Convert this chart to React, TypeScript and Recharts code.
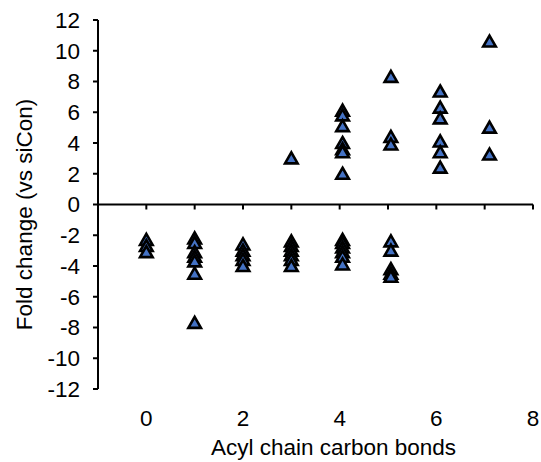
import { ScatterChart, Scatter, XAxis, YAxis, ReferenceLine, Label } from 'recharts';

// acyl chain carbon bonds (category) and the x where Excel drew each column
const bondCounts = [0, 1, 2, 3, 4, 5, 6, 7];
const plotX = [0, 1, 2, 3, 4.06, 5.06, 6.08, 7.1];

const fold0 = [-2.3, -2.7, -3.1];
const fold1 = [-2.2, -2.5, -3.1, -3.4, -3.7, -4.5, -7.7];
const fold2 = [-2.6, -3.0, -3.3, -3.6, -4.0];
const fold3 = [3.0, -2.4, -2.7, -3.0, -3.3, -3.6, -4.0];
const fold4 = [6.1, 5.8, 5.1, 4.0, 3.6, 3.4, 2.0, -2.3, -2.5, -2.8, -3.1, -3.4, -3.9];
const fold5 = [8.3, 4.4, 3.9, -2.4, -3.0, -4.2, -4.5, -4.7];
const fold6 = [7.35, 6.3, 5.6, 4.1, 3.4, 2.4];
const fold7 = [10.6, 5.0, 3.25];

const xTicks = [0, 1, 2, 3, 4, 5, 6, 7, 8];
const yTicks = [-12, -10, -8, -6, -4, -2, 0, 2, 4, 6, 8, 10, 12];

const groups = [fold0, fold1, fold2, fold3, fold4, fold5, fold6, fold7];
const points = groups.flatMap((vals, i) =>
  vals.map((v) => ({ bonds: bondCounts[i], x: plotX[i], y: v }))
);

const W = 541;
const H = 462;
const MARGIN = { top: 20, right: 8, bottom: 0, left: 0 };
const Y_AXIS_W = 98;
const X_AXIS_H = 73;
// pixel row of y = 0 (middle of the symmetric -12..12 range)
const ZERO_Y = MARGIN.top + (H - MARGIN.top - MARGIN.bottom - X_AXIS_H) / 2;
const FONT = '"Liberation Sans", Arial, sans-serif';
const FS = 22.5;

const Triangle = (props: any) => {
  const { cx, cy } = props;
  if (cx == null || cy == null) return null;
  return (
    <path
      d={`M${cx},${cy - 6} L${cx + 6.3},${cy + 5} L${cx - 6.3},${cy + 5} Z`}
      fill="#4472C4"
      stroke="#000"
      strokeWidth={2.6}
      strokeLinejoin="miter"
    />
  );
};

const XTick = (props: any) => {
  const { x, y, payload } = props;
  const v = payload.value;
  return (
    <g>
      <line x1={x} y1={ZERO_Y} x2={x} y2={ZERO_Y + 5} stroke="#000" strokeWidth={2} />
      {v % 2 === 0 && (
        <text x={x} y={y} dy="0.71em" textAnchor="middle" fill="#000" fontSize={FS} fontFamily={FONT}>
          {v}
        </text>
      )}
    </g>
  );
};

const YTitle = (props: any) => {
  const { viewBox } = props;
  const cx = 24;
  const cy = viewBox.y + viewBox.height / 2 + 10;
  return (
    <text
      x={cx}
      y={cy}
      textAnchor="middle"
      dominantBaseline="central"
      transform={`rotate(-90 ${cx} ${cy})`}
      fill="#000"
      fontSize={FS}
      fontFamily={FONT}
    >
      Fold change (vs siCon)
    </text>
  );
};

export default function App() {
  return (
    <div style={{ position: 'absolute', left: 0, top: 0, background: '#fff' }}>
      <ScatterChart width={W} height={H} margin={MARGIN}>
        <XAxis
          type="number"
          dataKey="x"
          domain={[-1, 8]}
          ticks={xTicks}
          interval={0}
          axisLine={false}
          tickLine={false}
          tickSize={0}
          tickMargin={21}
          height={X_AXIS_H}
          tick={<XTick />}
        >
          <Label
            value="Acyl chain carbon bonds"
            position="insideBottom"
            offset={7}
            dx={18}
            fill="#000"
            fontSize={FS}
            fontFamily={FONT}
          />
        </XAxis>
        <YAxis
          type="number"
          dataKey="y"
          domain={[-12, 12]}
          ticks={yTicks}
          interval={0}
          width={Y_AXIS_W}
          axisLine={{ stroke: '#000', strokeWidth: 2 }}
          tickLine={{ stroke: '#000', strokeWidth: 2 }}
          tickSize={5}
          tickMargin={13}
          tick={{ fill: '#000', fontSize: FS, fontFamily: FONT }}
        >
          <Label content={<YTitle />} />
        </YAxis>
        <ReferenceLine y={0} stroke="#000" strokeWidth={2} />
        <Scatter data={points} shape={<Triangle />} isAnimationActive={false} />
      </ScatterChart>
    </div>
  );
}
